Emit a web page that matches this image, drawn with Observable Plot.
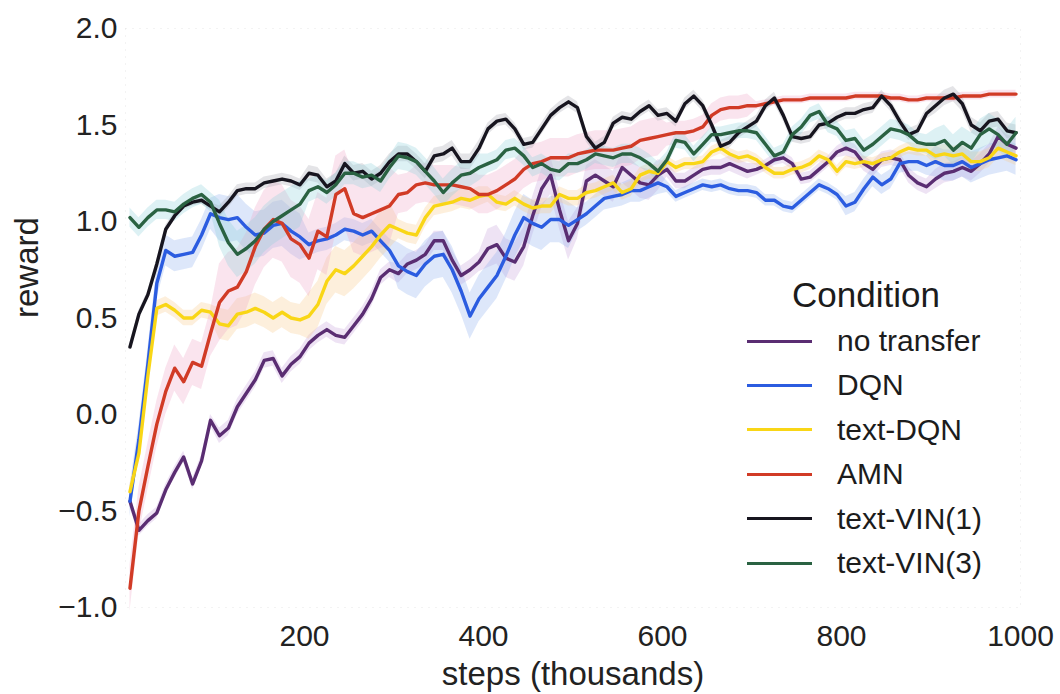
<!DOCTYPE html>
<html>
<head>
<meta charset="utf-8">
<script src="https://cdn.jsdelivr.net/npm/d3@7"></script>
<script src="https://cdn.jsdelivr.net/npm/@observablehq/plot@0.6"></script>
<style>
  body { margin: 0; background: #fff; }
  #wrap { position: relative; width: 1060px; height: 694px; font-family: "Liberation Sans", Arial, sans-serif; color: #1c1c1c; }
  #legend { position: absolute; left: 747px; top: 0; width: 300px; height: 600px; pointer-events: none; }
  #legend .title { position: absolute; left: 45px; font-size: 35px; line-height: 40px; white-space: nowrap; }
  #legend .row { position: absolute; left: 0; height: 44px; display: flex; align-items: center; white-space: nowrap; }
  #legend .swatch { width: 65px; height: 3px; margin-right: 25px; }
  #legend .label { font-size: 30px; line-height: 44px; }
</style>
</head>
<body>
<div id="wrap">
  <div id="chart"></div>
  <div id="legend"></div>
</div>
<script>
// Training steps (thousands) at which every condition was sampled
const steps = [
  5, 15, 25, 35, 45, 55, 65, 75, 85, 95,
  105, 115, 125, 135, 145, 155, 165, 175, 185, 195,
  205, 215, 225, 235, 245, 255, 265, 275, 285, 295,
  305, 315, 325, 335, 345, 355, 365, 375, 385, 395,
  405, 415, 425, 435, 445, 455, 465, 475, 485, 495,
  505, 515, 525, 535, 545, 555, 565, 575, 585, 595,
  605, 615, 625, 635, 645, 655, 665, 675, 685, 695,
  705, 715, 725, 735, 745, 755, 765, 775, 785, 795,
  805, 815, 825, 835, 845, 855, 865, 875, 885, 895,
  905, 915, 925, 935, 945, 955, 965, 975, 985, 995
];

// Mean reward per condition
const noTransfer = [
  -0.45, -0.60, -0.55, -0.51, -0.39, -0.30, -0.22, -0.36, -0.24, -0.03,
  -0.11, -0.07, 0.04, 0.11, 0.18, 0.28, 0.29, 0.20, 0.26, 0.30,
  0.37, 0.41, 0.44, 0.41, 0.40, 0.46, 0.52, 0.60, 0.71, 0.75,
  0.73, 0.78, 0.80, 0.83, 0.90, 0.90, 0.80, 0.72, 0.75, 0.79,
  0.86, 0.88, 0.81, 0.79, 0.87, 1.03, 1.17, 1.24, 1.06, 0.90,
  0.99, 1.21, 1.24, 1.21, 1.18, 1.28, 1.24, 1.20, 1.19, 1.24,
  1.27, 1.21, 1.21, 1.24, 1.27, 1.28, 1.28, 1.30, 1.28, 1.26,
  1.27, 1.29, 1.32, 1.33, 1.30, 1.22, 1.23, 1.27, 1.31, 1.36,
  1.38, 1.36, 1.30, 1.27, 1.32, 1.33, 1.32, 1.24, 1.20, 1.18,
  1.22, 1.25, 1.26, 1.28, 1.26, 1.30, 1.35, 1.44, 1.40, 1.38
];
const dqn = [
  -0.45, -0.13, 0.26, 0.68, 0.85, 0.82, 0.83, 0.84, 0.93, 1.04,
  1.02, 1.01, 1.02, 0.97, 0.93, 0.94, 0.98, 0.99, 0.95, 0.92,
  0.88, 0.90, 0.91, 0.93, 0.96, 0.95, 0.93, 0.95, 0.90, 0.85,
  0.77, 0.74, 0.72, 0.78, 0.82, 0.83, 0.75, 0.64, 0.51, 0.60,
  0.66, 0.72, 0.82, 0.93, 1.02, 0.99, 0.97, 1.01, 1.01, 0.98,
  1.01, 1.04, 1.08, 1.12, 1.13, 1.14, 1.16, 1.16, 1.18, 1.20,
  1.18, 1.13, 1.15, 1.17, 1.19, 1.18, 1.19, 1.17, 1.16, 1.16,
  1.15, 1.11, 1.11, 1.08, 1.07, 1.11, 1.15, 1.19, 1.17, 1.14,
  1.08, 1.10, 1.17, 1.23, 1.19, 1.22, 1.30, 1.31, 1.31, 1.29,
  1.31, 1.29, 1.29, 1.31, 1.28, 1.30, 1.32, 1.33, 1.34, 1.32
];
const textDqn = [
  -0.40, -0.20, 0.20, 0.55, 0.57, 0.54, 0.50, 0.50, 0.54, 0.53,
  0.47, 0.46, 0.52, 0.53, 0.55, 0.53, 0.50, 0.53, 0.50, 0.49,
  0.51, 0.57, 0.69, 0.75, 0.73, 0.77, 0.82, 0.87, 0.93, 0.98,
  0.96, 0.94, 0.93, 1.02, 1.08, 1.09, 1.10, 1.12, 1.11, 1.13,
  1.14, 1.10, 1.09, 1.12, 1.09, 1.07, 1.08, 1.08, 1.14, 1.12,
  1.12, 1.15, 1.16, 1.18, 1.20, 1.15, 1.17, 1.24, 1.26, 1.25,
  1.31, 1.28, 1.30, 1.30, 1.31, 1.36, 1.38, 1.35, 1.33, 1.34,
  1.32, 1.28, 1.25, 1.25, 1.27, 1.28, 1.30, 1.34, 1.32, 1.26,
  1.31, 1.30, 1.31, 1.30, 1.32, 1.33, 1.36, 1.38, 1.37, 1.37,
  1.34, 1.35, 1.34, 1.35, 1.31, 1.31, 1.33, 1.38, 1.36, 1.34
];
const amn = [
  -0.90, -0.50, -0.27, -0.05, 0.12, 0.24, 0.17, 0.27, 0.25, 0.42,
  0.58, 0.64, 0.66, 0.74, 0.87, 0.96, 1.01, 0.99, 0.91, 0.88,
  0.81, 0.95, 0.92, 1.14, 1.17, 1.04, 1.02, 1.04, 1.06, 1.08,
  1.14, 1.15, 1.19, 1.20, 1.19, 1.19, 1.19, 1.18, 1.17, 1.14,
  1.14, 1.16, 1.19, 1.22, 1.27, 1.30, 1.31, 1.33, 1.33, 1.33,
  1.35, 1.36, 1.37, 1.37, 1.37, 1.38, 1.39, 1.42, 1.43, 1.44,
  1.45, 1.46, 1.46, 1.47, 1.49, 1.55, 1.58, 1.59, 1.59, 1.60,
  1.60, 1.61, 1.62, 1.63, 1.63, 1.63, 1.64, 1.64, 1.64, 1.64,
  1.64, 1.65, 1.65, 1.65, 1.65, 1.64, 1.64, 1.63, 1.63, 1.64,
  1.64, 1.64, 1.64, 1.65, 1.65, 1.65, 1.66, 1.66, 1.66, 1.66
];
const textVin1 = [
  0.35, 0.52, 0.62, 0.78, 0.96, 1.03, 1.08, 1.10, 1.11, 1.08,
  1.05, 1.10, 1.16, 1.17, 1.17, 1.20, 1.21, 1.22, 1.21, 1.19,
  1.25, 1.24, 1.18, 1.21, 1.30, 1.25, 1.26, 1.22, 1.25, 1.31,
  1.35, 1.35, 1.31, 1.26, 1.34, 1.35, 1.38, 1.31, 1.31, 1.38,
  1.48, 1.52, 1.53, 1.48, 1.40, 1.41, 1.48, 1.55, 1.59, 1.62,
  1.59, 1.44, 1.38, 1.41, 1.51, 1.54, 1.53, 1.57, 1.60, 1.55,
  1.56, 1.52, 1.61, 1.65, 1.60, 1.50, 1.39, 1.41, 1.46, 1.49,
  1.52, 1.60, 1.64, 1.55, 1.44, 1.43, 1.44, 1.50, 1.51, 1.54,
  1.56, 1.56, 1.58, 1.59, 1.65, 1.60, 1.52, 1.45, 1.47, 1.56,
  1.60, 1.64, 1.66, 1.61, 1.50, 1.47, 1.52, 1.53, 1.47, 1.46
];
const textVin3 = [
  1.02, 0.97, 1.02, 1.06, 1.06, 1.05, 1.09, 1.12, 1.14, 1.10,
  0.99, 0.89, 0.83, 0.86, 0.90, 0.96, 1.00, 1.03, 1.06, 1.09,
  1.16, 1.18, 1.15, 1.19, 1.25, 1.25, 1.23, 1.24, 1.21, 1.28,
  1.34, 1.33, 1.31, 1.26, 1.21, 1.15, 1.20, 1.24, 1.25, 1.28,
  1.30, 1.32, 1.37, 1.38, 1.34, 1.28, 1.30, 1.27, 1.26, 1.30,
  1.30, 1.32, 1.35, 1.34, 1.33, 1.35, 1.35, 1.33, 1.30, 1.26,
  1.32, 1.42, 1.41, 1.35, 1.40, 1.45, 1.45, 1.46, 1.47, 1.47,
  1.46, 1.40, 1.34, 1.36, 1.45, 1.49, 1.55, 1.57, 1.50, 1.48,
  1.42, 1.43, 1.37, 1.40, 1.44, 1.48, 1.47, 1.45, 1.41, 1.40,
  1.40, 1.42, 1.37, 1.41, 1.38, 1.45, 1.48, 1.45, 1.40, 1.46
];

// Half-width of the shaded uncertainty band, one value per 100k steps
const noTransferSpread = [0.03, 0.04, 0.04, 0.05, 0.10, 0.08, 0.04, 0.03, 0.04, 0.05];
const dqnSpread        = [0.08, 0.12, 0.06, 0.12, 0.12, 0.06, 0.03, 0.03, 0.05, 0.08];
const textDqnSpread    = [0.04, 0.08, 0.12, 0.05, 0.04, 0.04, 0.03, 0.03, 0.03, 0.05];
const amnSpread        = [0.12, 0.20, 0.20, 0.10, 0.10, 0.10, 0.06, 0.02, 0.02, 0.02];
const textVin1Spread   = [0.02, 0.03, 0.04, 0.04, 0.03, 0.03, 0.03, 0.03, 0.03, 0.04];
const textVin3Spread   = [0.05, 0.12, 0.06, 0.07, 0.05, 0.05, 0.04, 0.04, 0.05, 0.08];

const conditions = ["no transfer", "DQN", "text-DQN", "AMN", "text-VIN(1)", "text-VIN(3)"];
const lineColors = ["#5a2d72", "#2b5ce0", "#f9d616", "#d13b26", "#17151f", "#2a6242"];
const bandColors = ["#c6a3dc", "#8fb0ee", "#f7c98a", "#f0a6c8", "#a4a4ae", "#8ed0dc"];
const xTicks = [200, 400, 600, 800, 1000];
const yTicks = [-1, -0.5, 0, 0.5, 1, 1.5, 2];

const means = [noTransfer, dqn, textDqn, amn, textVin1, textVin3];
const spreads = [noTransferSpread, dqnSpread, textDqnSpread, amnSpread, textVin1Spread, textVin3Spread];

// Long-format table: one row per condition and step
const rows = [];
conditions.forEach((name, k) => {
  steps.forEach((s, i) => {
    const v = means[k][i];
    const h = spreads[k][Math.min(9, Math.floor(s / 100))];
    rows.push({ name, step: s, value: v, lo: v - h, hi: v + h });
  });
});

const chart = Plot.plot({
  width: 1060,
  height: 694,
  marginLeft: 125,
  marginRight: 40,
  marginTop: 28,
  marginBottom: 87,
  style: { fontFamily: "'Liberation Sans', Arial, sans-serif", fontSize: "30px", color: "#222", background: "#fff" },
  x: { domain: [0, 1000] },
  y: { domain: [-1, 2] },
  color: { domain: conditions, range: lineColors },
  marks: [
    Plot.frame({ stroke: "#e6e6e6", strokeDasharray: "1,6" }),
    ...conditions.map((name, k) =>
      Plot.areaY(rows.filter(d => d.name === name), {
        x: "step", y1: "lo", y2: "hi", fill: bandColors[k], fillOpacity: 0.3
      })
    ),
    Plot.lineY(rows, { x: "step", y: "value", z: "name", stroke: "name", strokeWidth: 3.4, strokeLinejoin: "round" }),
    Plot.axisX({ ticks: xTicks, tickSize: 0, tickPadding: 17, tickFormat: d3.format("d"), label: null, fontSize: 30 }),
    Plot.axisY({ ticks: yTicks, tickSize: 0, tickPadding: 8, tickFormat: d3.format(".1f"), label: null, fontSize: 30 }),
    Plot.text(["steps (thousands)"], { frameAnchor: "bottom", dy: 77, fontSize: 33, fill: "#222" }),
    Plot.text(["reward"], { frameAnchor: "left", dx: -98, rotate: -90, fontSize: 33, fill: "#222" })
  ]
});
document.getElementById("chart").appendChild(chart);

// Legend drawn inside the plot area, lower right
const legend = d3.select("#legend");
legend.append("div").attr("class", "title").style("top", "275px").text("Condition");
conditions.forEach((name, k) => {
  const row = legend.append("div").attr("class", "row").style("top", (319 + 44.4 * k) + "px");
  row.append("div").attr("class", "swatch").style("background", lineColors[k]);
  row.append("div").attr("class", "label").text(name);
});
</script>
</body>
</html>
